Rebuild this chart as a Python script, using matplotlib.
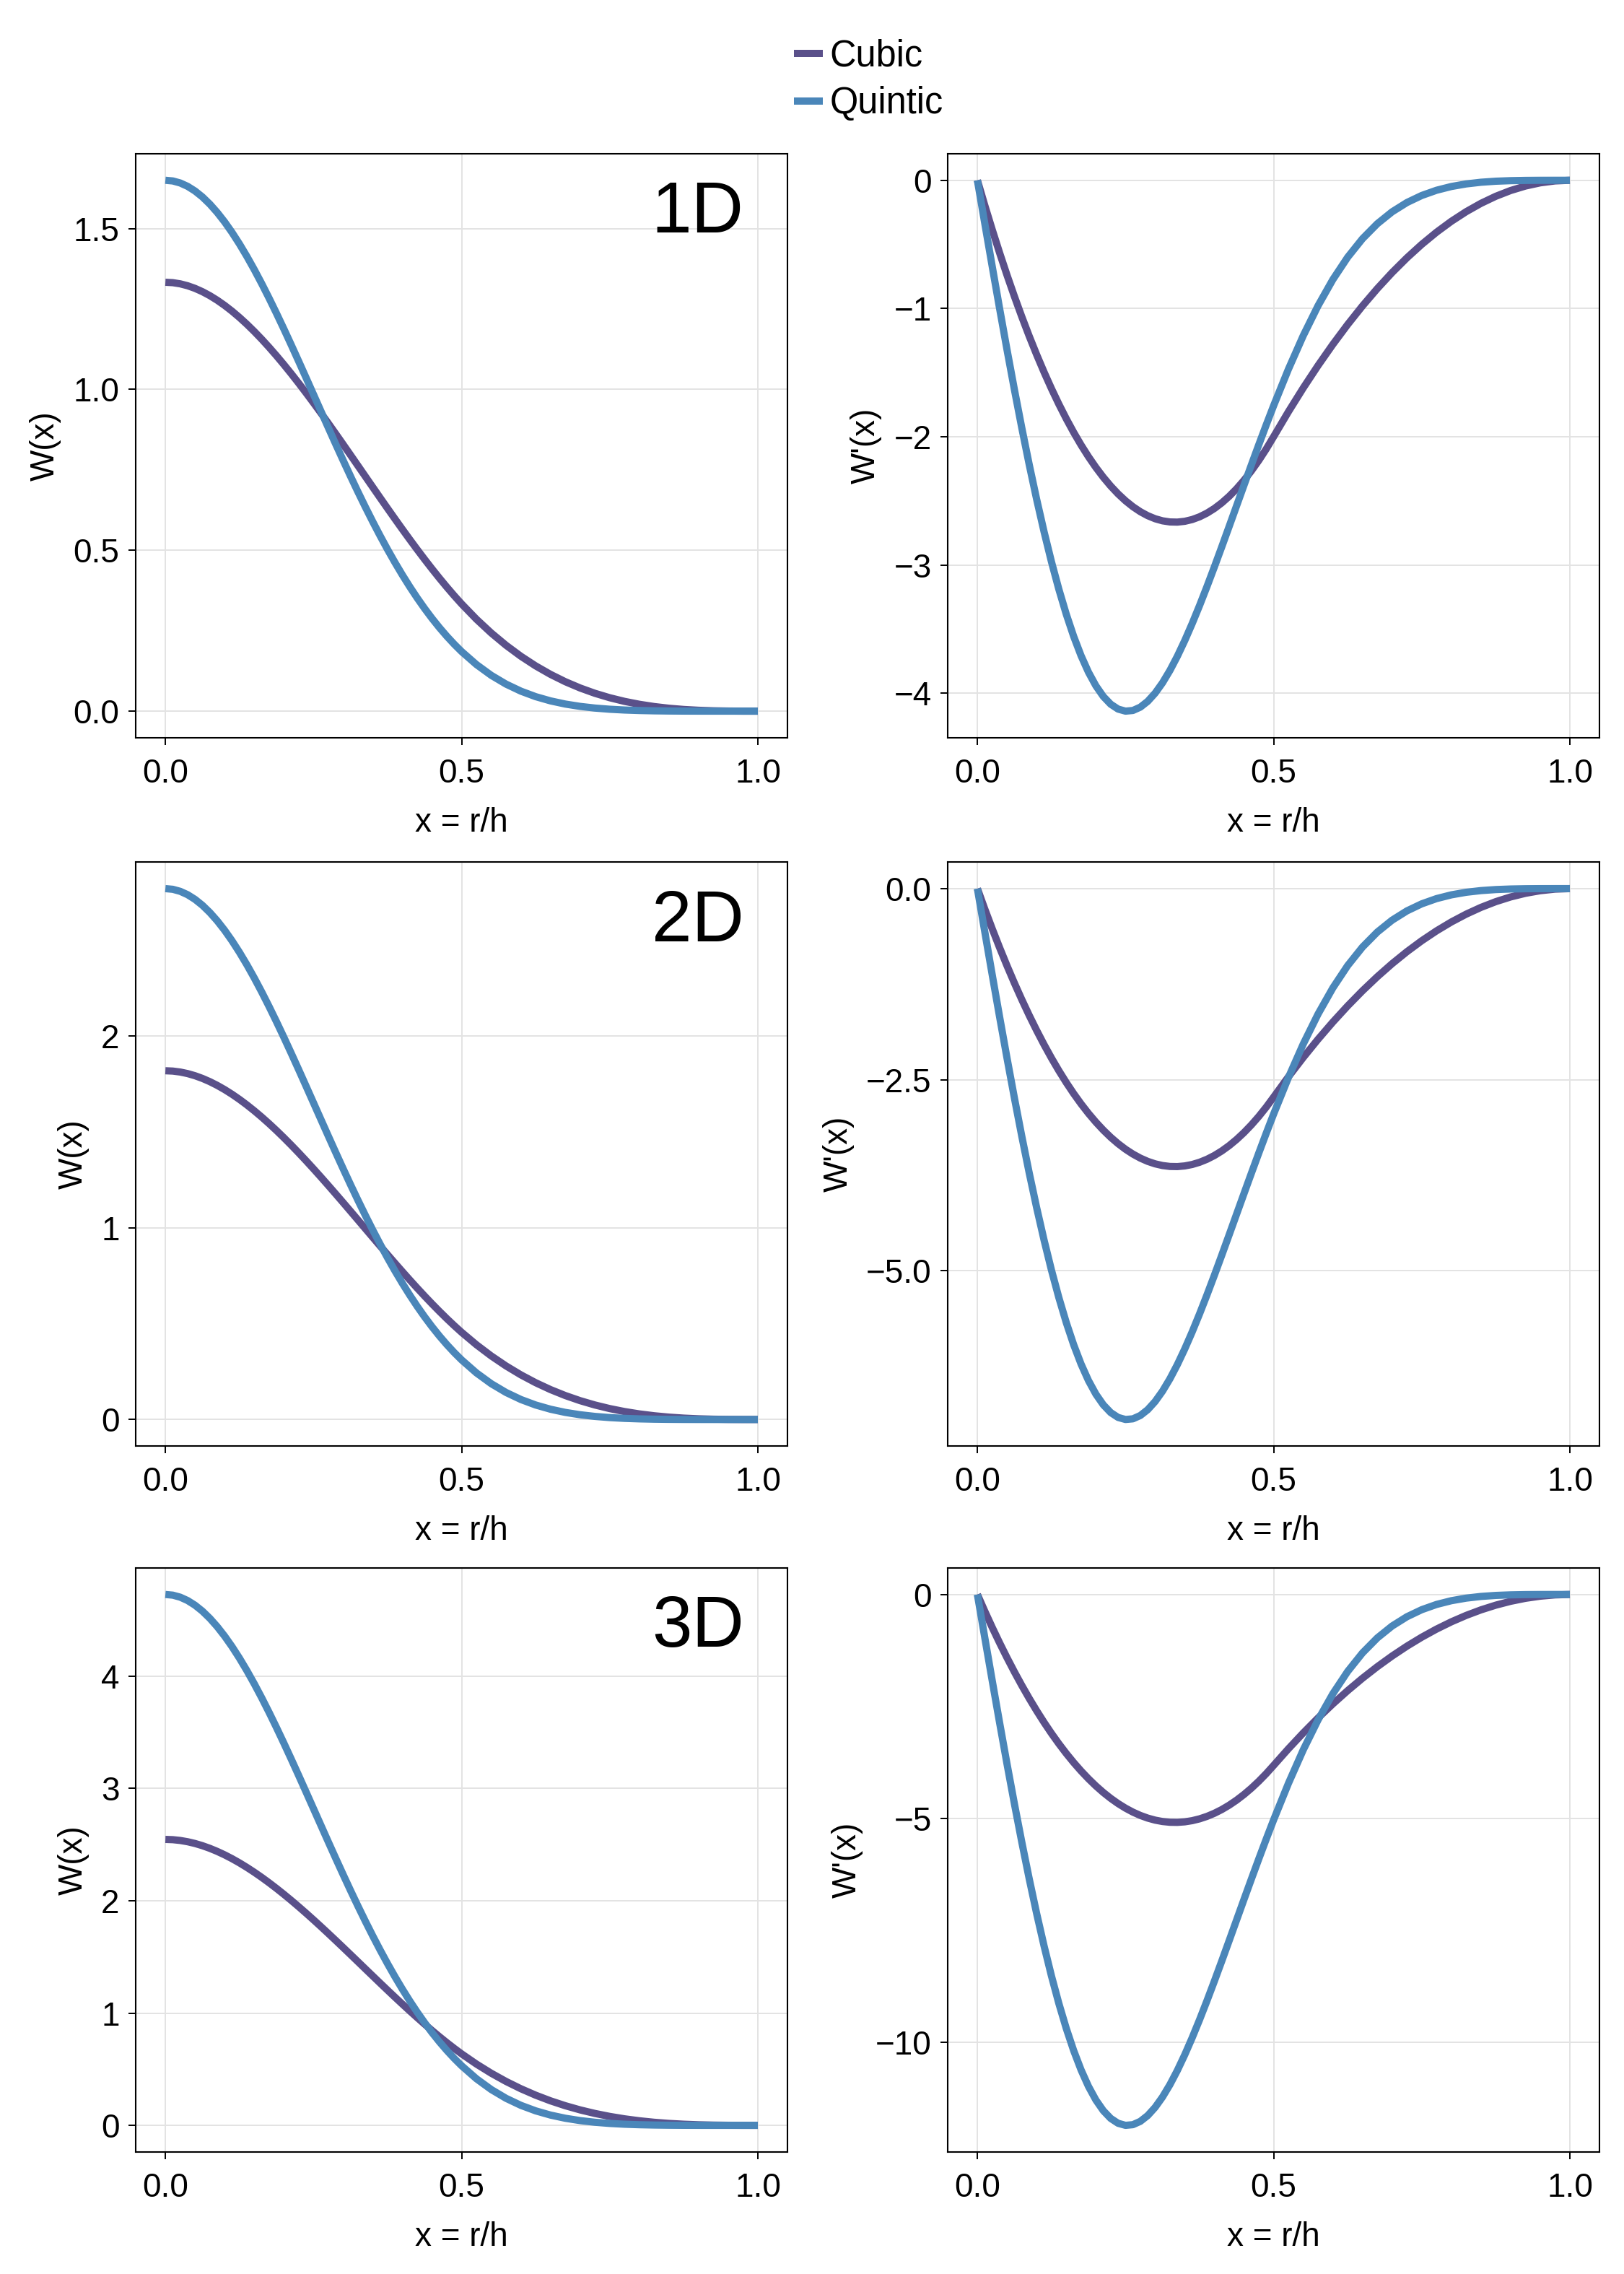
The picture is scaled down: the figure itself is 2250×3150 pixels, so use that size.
import matplotlib
matplotlib.use("Agg")
import matplotlib.pyplot as plt
from matplotlib.ticker import FuncFormatter
import numpy as np

plt.rcParams['font.family'] = ['Liberation Sans', 'DejaVu Sans']

# sample positions x = r/h (denser where the curves bend most)
x_vals = [0.0, 0.0125, 0.025, 0.0375, 0.05, 0.0625, 0.075, 0.0875, 0.1, 0.1125,
          0.125, 0.1375, 0.15, 0.1625, 0.175, 0.1875, 0.2, 0.2125, 0.225, 0.2375,
          0.25, 0.2625, 0.275, 0.2875, 0.3, 0.3125, 0.325, 0.3375, 0.35, 0.3625,
          0.375, 0.3875, 0.4, 0.4125, 0.425, 0.4375, 0.45, 0.4625, 0.475, 0.4875,
          0.5, 0.525, 0.55, 0.575, 0.6, 0.625, 0.65, 0.675, 0.7, 0.725,
          0.75, 0.775, 0.8, 0.825, 0.85, 0.875, 0.9, 0.925, 0.95, 0.975, 1.0]

# kernel shapes relative to the peak value W(0)
cubic_shape = [1.0, 0.99907, 0.99634, 0.99188, 0.98575, 0.97803, 0.96878, 0.95808, 0.946, 0.93261,
               0.91797, 0.90216, 0.88525, 0.86731, 0.84841, 0.82861, 0.808, 0.78664, 0.76459, 0.74194,
               0.71875, 0.69509, 0.67103, 0.64664, 0.622, 0.59717, 0.57222, 0.54722, 0.52225, 0.49737,
               0.47266, 0.44818, 0.424, 0.40020, 0.37684, 0.35400, 0.33175, 0.31015, 0.28928, 0.26921,
               0.25, 0.21434, 0.18225, 0.15353, 0.128, 0.10547, 0.08575, 0.06866, 0.054, 0.04159,
               0.03125, 0.02278, 0.016, 0.01072, 0.00675, 0.00391, 0.002, 0.00084, 0.00025, 0.00003, 0.0]
cubic_slope = [0.0, -0.14719, -0.28875, -0.42469, -0.555, -0.67969, -0.79875, -0.91219, -1.02, -1.12219,
               -1.21875, -1.30969, -1.395, -1.47469, -1.54875, -1.61719, -1.68, -1.73719, -1.78875, -1.83469,
               -1.875, -1.90969, -1.93875, -1.96219, -1.98, -1.99219, -1.99875, -1.99969, -1.995, -1.98469,
               -1.96875, -1.94719, -1.92, -1.88719, -1.84875, -1.80469, -1.755, -1.69969, -1.63875, -1.57219,
               -1.5, -1.35375, -1.215, -1.08375, -0.96, -0.84375, -0.735, -0.63375, -0.54, -0.45375,
               -0.375, -0.30375, -0.24, -0.18375, -0.135, -0.09375, -0.06, -0.03375, -0.015, -0.00375, 0.0]
quintic_shape = [1.0, 0.99872, 0.99490, 0.98856, 0.97976, 0.96857, 0.95506, 0.93933, 0.92150, 0.90168,
                 0.88002, 0.85666, 0.83175, 0.80545, 0.77792, 0.74933, 0.71986, 0.68966, 0.65893, 0.62782,
                 0.59650, 0.56515, 0.53391, 0.50295, 0.47240, 0.44239, 0.41306, 0.38452, 0.35686, 0.33016,
                 0.30450, 0.27993, 0.25651, 0.23426, 0.21321, 0.19337, 0.17475, 0.15734, 0.14113, 0.12610,
                 0.11222, 0.08777, 0.06746, 0.05091, 0.03767, 0.02730, 0.01934, 0.01335, 0.00895, 0.00579,
                 0.00360, 0.00212, 0.00118, 0.00060, 0.00028, 0.00011, 0.00004, 0.00001, 0.0, 0.0, 0.0]
quintic_slope = [0.0, -0.20426, -0.40686, -0.60623, -0.80092, -0.98958, -1.17097, -1.34395, -1.50750, -1.66071,
                 -1.80276, -1.93295, -2.05070, -2.15551, -2.24700, -2.32492, -2.38909, -2.43947, -2.47610, -2.49914,
                 -2.50888, -2.50568, -2.49003, -2.46253, -2.42386, -2.37485, -2.31642, -2.24958, -2.17545, -2.09513,
                 -2.00967, -1.92007, -1.82727, -1.73217, -1.63560, -1.53835, -1.44105, -1.34463, -1.24946, -1.15619,
                 -1.06534, -0.89266, -0.73442, -0.59280, -0.46909, -0.36371, -0.27624, -0.20538, -0.14911, -0.10528,
                 -0.07191, -0.04718, -0.02945, -0.01727, -0.00932, -0.00449, -0.00184, -0.00058, -0.00012, -0.00001, 0.0]

dims = ['1D', '2D', '3D']
cubic_peak = [1.333, 1.819, 2.546]
quintic_peak = [1.650, 2.769, 4.727]

w_ticks = [[0.0, 0.5, 1.0, 1.5], [0, 1, 2], [0, 1, 2, 3, 4]]
dw_ticks = [[0, -1, -2, -3, -4], [0.0, -2.5, -5.0], [0, -5, -10]]
w_fmt = ['{:.1f}', '{:.0f}', '{:.0f}']
dw_fmt = ['{:.0f}', '{:.1f}', '{:.0f}']
x_ticks = [0.0, 0.5, 1.0]

CUBIC = '#5a508a'
QUINTIC = '#4a86b9'

fig = plt.figure(figsize=(11.25, 15.75), dpi=200)

col_left = [0.0836, 0.5836]
ax_w = 0.4013
ax_h = 0.2568
row_bottom = [0.6756, 0.3641, 0.0537]


def fmt_minus(f):
    return FuncFormatter(lambda v, p: f.format(v).replace('-', '\u2212'))


def style_axis(ax, yt, yfmt):
    ax.set_xticks(x_ticks)
    ax.set_yticks(yt)
    ax.xaxis.set_major_formatter(fmt_minus('{:.1f}'))
    ax.yaxis.set_major_formatter(fmt_minus(yfmt))
    ax.margins(x=0.05, y=0.05)
    ax.grid(True, color='#e3e3e3', linewidth=0.7)
    ax.set_axisbelow(True)
    ax.tick_params(direction='out', length=3.6, width=0.7, labelsize=16.5, pad=4.5,
                   top=False, right=False)
    ax.tick_params(axis='x', pad=6.5)
    for s in ax.spines.values():
        s.set_linewidth(0.75)
    ax.set_xlabel('x = r/h', fontsize=16.5, labelpad=8.5)


for i, d in enumerate(dims):
    cw = np.array(cubic_shape) * cubic_peak[i]
    qw = np.array(quintic_shape) * quintic_peak[i]
    cdw = np.array(cubic_slope) * cubic_peak[i]
    qdw = np.array(quintic_slope) * quintic_peak[i]

    ax1 = fig.add_axes([col_left[0], row_bottom[i], ax_w, ax_h])
    l1, = ax1.plot(x_vals, cw, color=CUBIC, lw=3.6, solid_capstyle='butt', label='Cubic')
    l2, = ax1.plot(x_vals, qw, color=QUINTIC, lw=3.6, solid_capstyle='butt', label='Quintic')
    style_axis(ax1, w_ticks[i], w_fmt[i])
    ax1.set_ylabel('W(x)', fontsize=16.5, labelpad=6)
    ax1.text(0.933, 0.955, d, transform=ax1.transAxes, ha='right', va='top', fontsize=36)

    ax2 = fig.add_axes([col_left[1], row_bottom[i], ax_w, ax_h])
    ax2.plot(x_vals, cdw, color=CUBIC, lw=3.6, solid_capstyle='butt')
    ax2.plot(x_vals, qdw, color=QUINTIC, lw=3.6, solid_capstyle='butt')
    style_axis(ax2, dw_ticks[i], dw_fmt[i])
    ax2.set_ylabel("W'(x)", fontsize=16.5, labelpad=6)

    if i == 0:
        handles = [l1, l2]

fig.legend(handles=handles, labels=['Cubic', 'Quintic'], loc='upper left',
           bbox_to_anchor=(0.4889, 0.983), frameon=False, fontsize=18.2,
           handlelength=0.8, handletextpad=0.18, labelspacing=0.33,
           borderpad=0, borderaxespad=0)

fig.savefig('out.png', dpi=200, facecolor='white')
